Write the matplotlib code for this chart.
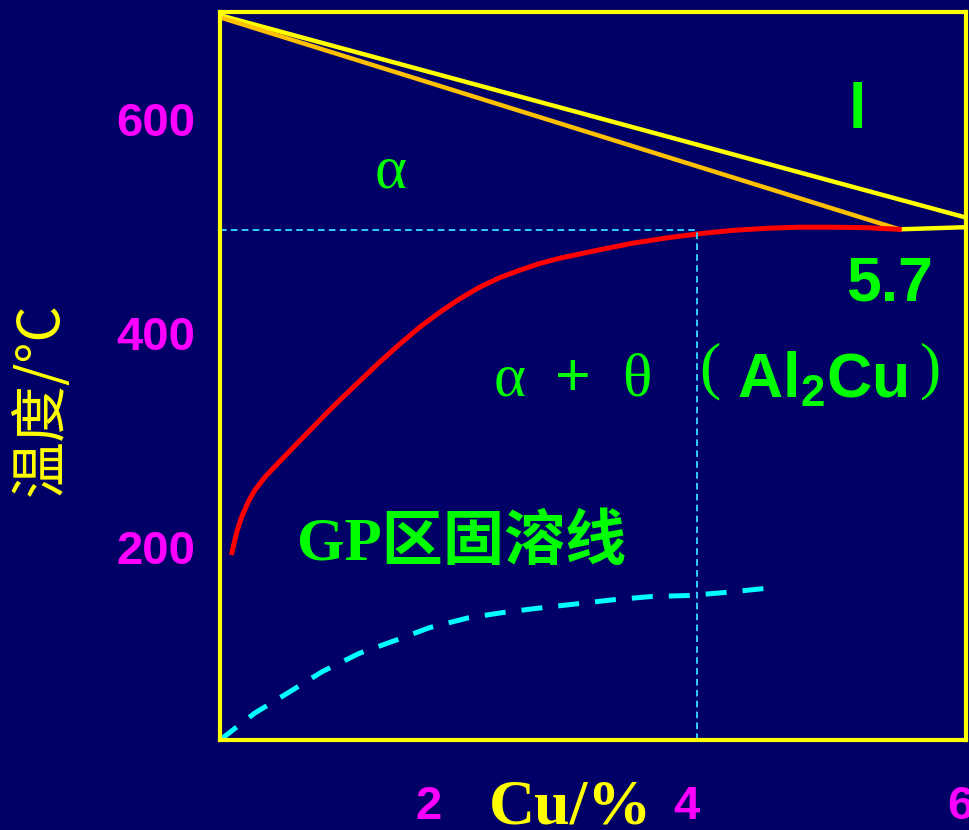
import numpy as np
import matplotlib
matplotlib.use("Agg")
import matplotlib.pyplot as plt

plt.rcParams["mathtext.default"] = "regular"

# Al-Cu corner of the phase diagram (schematic), Cu in wt%, T in degC
liquidus_x = [0.0, 6.26]
liquidus_t = [697, 508]
solidus_x = [0.0, 5.7]
solidus_t = [695, 497]
eutectic_x = [5.7, 6.26]
eutectic_t = [497, 499]

solvus_x = [0.10, 0.14, 0.18, 0.24, 0.29, 0.38, 0.50, 0.63, 0.77, 0.91, 1.01,
            1.17, 1.34, 1.51, 1.68, 1.85, 2.01, 2.18, 2.35, 2.52, 2.68, 2.85,
            3.02, 3.19, 3.46, 3.75, 4.03, 4.30, 4.59, 4.86, 5.14, 5.43, 5.70]
solvus_t = [195, 214, 228, 243, 253, 266, 280, 295, 311, 327, 338,
            355, 373, 390, 406, 420, 432, 443, 452, 459, 465, 470,
            474, 478, 484, 489, 493, 496, 498, 499, 499, 498.5, 497]

gp_x = [0.0, 0.29, 0.57, 0.86, 1.17, 1.47, 1.76, 2.08, 2.37, 2.66, 2.98, 3.3,
        3.62, 3.94, 4.26, 4.61]
gp_t = [20, 45, 64, 84, 101, 113, 125, 134, 139, 143, 147, 151, 154, 155, 158, 162]

ref_x = 4.0
ref_t = 496

x_ticks = [2, 4, 6]
x_tick_nudge = [-30, -10, 25]  # px, hand placement of the labels
y_ticks = [200, 400, 600]

BG = "#000066"
YELLOW = "#FFFF00"
MAGENTA = "#FF00FF"
GREEN = "#00FF00"

fig = plt.figure(figsize=(9.69, 8.30), dpi=100)
fig.patch.set_facecolor(BG)
ax = fig.add_axes([220 / 969, 1 - 740 / 830, 746 / 969, 728 / 830])
ax.set_facecolor(BG)
ax.set_xlim(0, 6.26)
ax.set_ylim(20, 700)

for s in ax.spines.values():
    s.set_color(YELLOW)
    s.set_linewidth(3)

# phase boundaries
ax.plot(liquidus_x, liquidus_t, color=YELLOW, lw=3.2, solid_capstyle="butt")
ax.plot(solidus_x, solidus_t, color="#FFC000", lw=3.2, solid_capstyle="butt")
ax.plot(eutectic_x, eutectic_t, color=YELLOW, lw=3.2, solid_capstyle="butt")
ax.plot(solvus_x, solvus_t, color="#FF0000", lw=3.6, solid_joinstyle="round")
ax.plot(gp_x, gp_t, color="#00FFFF", lw=3.6, dashes=(4.2, 3.2))

# reference lines at 4% Cu
ax.plot([0, ref_x], [ref_t, ref_t], color="#33CCFF", lw=1.4, dashes=(3.4, 2.2))
ax.plot([ref_x, ref_x], [20, ref_t], color="#33CCFF", lw=1.4, dashes=(3.4, 2.2))

# axis labels / ticks
ax.set_xticks([])
ax.set_yticks(y_ticks)
ax.set_yticklabels([str(v) for v in y_ticks])
ax.tick_params(axis="y", length=0, pad=18, labelcolor=MAGENTA, labelsize=34)
for lab in ax.get_yticklabels():
    lab.set_fontfamily("Liberation Sans")
    lab.set_fontweight("bold")

for v, dx in zip(x_ticks, x_tick_nudge):
    ax.annotate(str(v), xy=(v, 20), xytext=(dx * 0.72, -48), textcoords="offset points",
                ha="center", va="center", color=MAGENTA, fontsize=34,
                fontfamily="Liberation Sans", fontweight="bold", annotation_clip=False)

fig.text(570 / 969, 7 / 830, "Cu/%", ha="center", va="baseline", color=YELLOW,
         fontsize=46, fontfamily="Liberation Serif", fontweight="bold")
fig.text(42 / 969, 1 - 399 / 830, "温度/°C", rotation=90, ha="center", va="center",
         color=YELLOW, fontsize=41, family=["Noto Sans CJK SC", "DejaVu Sans"])

# region labels
ax.text(1.43, 550, "α", ha="center", va="center", color=GREEN, fontsize=44,
        fontfamily="Liberation Serif")
ax.text(5.35, 607, "l", ha="center", va="center", color=GREEN, fontsize=45,
        fontfamily="Liberation Sans", fontweight="bold")
ax.text(5.62, 446, "5.7", ha="center", va="center", color=GREEN, fontsize=45,
        fontfamily="Liberation Sans", fontweight="bold")

ax.text(2.43, 342, "α", ha="center", va="baseline", color=GREEN, fontsize=44,
        fontfamily="Liberation Serif")
ax.text(2.96, 342, "+", ha="center", va="baseline", color=GREEN, fontsize=44,
        fontfamily="Liberation Sans")
ax.text(3.50, 342, "θ", ha="center", va="baseline", color=GREEN, fontsize=44,
        fontfamily="Liberation Serif")
ax.text(4.11, 364, "(", ha="center", va="center", color=GREEN, fontsize=46,
        fontfamily="Liberation Serif")
ax.text(4.335, 340, "Al$_2$Cu", ha="left", va="baseline", color=GREEN, fontsize=45,
        fontfamily="Liberation Sans", fontweight="bold")
ax.text(5.96, 364, ")", ha="center", va="center", color=GREEN, fontsize=46,
        fontfamily="Liberation Serif")

ax.text(2.03, 203, "GP区固溶线", ha="center", va="center", color=GREEN, fontsize=44,
        family=["Liberation Serif", "Noto Sans CJK SC"], fontweight="bold")

fig.savefig("out.png", dpi=100, facecolor=BG)
